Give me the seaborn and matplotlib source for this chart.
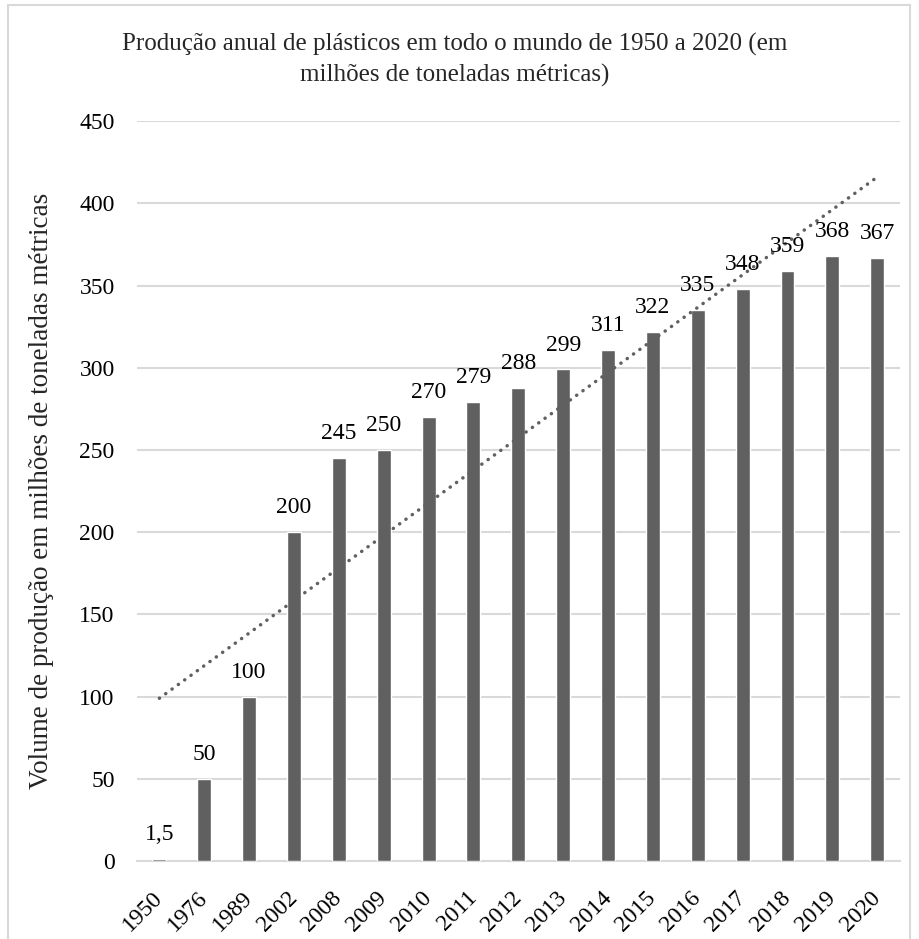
import numpy as np
import pandas as pd
import matplotlib.pyplot as plt
import seaborn as sns
from matplotlib.patches import Rectangle

anos = ['1950', '1976', '1989', '2002', '2008', '2009', '2010', '2011', '2012',
        '2013', '2014', '2015', '2016', '2017', '2018', '2019', '2020']
producao = [1.5, 50, 100, 200, 245, 250, 270, 279, 288, 299, 311, 322, 335,
            348, 359, 368, 367]
# linha de tendência (valores lidos no início e no fim)
tendencia = [99, 416]

sns.set_style("white")
plt.rcParams['font.family'] = ['Liberation Serif', 'DejaVu Serif']

df = pd.DataFrame({'ano': anos, 'producao': producao})

fig = plt.figure(figsize=(9.19, 9.39), dpi=100)
ax = fig.add_axes([0.149, 0.083, 0.830, 0.788])

sns.barplot(data=df, x='ano', y='producao', color='#606060', width=0.31,
            saturation=1, ax=ax, zorder=3)

# tendência linear pontilhada
ax.plot([0, len(anos) - 1], tendencia, linestyle=(0, (0.05, 2.2)),
        color='#606060', linewidth=2.5, dash_capstyle='round', zorder=4)

rotulos = [str(v).replace('.', ',') if v % 1 else str(int(v)) for v in producao]
ax.bar_label(ax.containers[0], labels=rotulos, padding=10, fontsize=17,
             color='#000000', zorder=5)

ax.set_ylim(0, 450)
ax.set_xlim(-0.5, len(anos) - 0.5)
ax.set_yticks(range(0, 451, 50))
ax.yaxis.grid(True, color='#d9d9d9', linewidth=1.5, zorder=0)
ax.set_axisbelow(True)
for s in ['top', 'right', 'left']:
    ax.spines[s].set_visible(False)
ax.spines['bottom'].set_color('#d9d9d9')
ax.spines['bottom'].set_linewidth(1.5)
ax.tick_params(axis='both', length=0, labelsize=17, colors='#000000')
ax.tick_params(axis='y', pad=16)
ax.tick_params(axis='x', pad=24)
plt.setp(ax.get_xticklabels(), rotation=45, ha='right', va='center',
         rotation_mode='anchor')

ax.set_xlabel('')
ax.set_ylabel('Volume de produção em milhões de toneladas métricas',
              fontsize=19.5, labelpad=18)

fig.text(0.495, 0.965, 'Produção anual de plásticos em todo o mundo de 1950 a 2020 (em\nmilhões de toneladas métricas)',
         ha='center', va='top', fontsize=18, linespacing=1.45)

fig.patches.append(Rectangle((8 / 919, -0.05), 902 / 919, 1.045, transform=fig.transFigure,
                             fill=False, edgecolor='#d9d9d9', linewidth=1.5))

fig.savefig('out.png', dpi=100)
